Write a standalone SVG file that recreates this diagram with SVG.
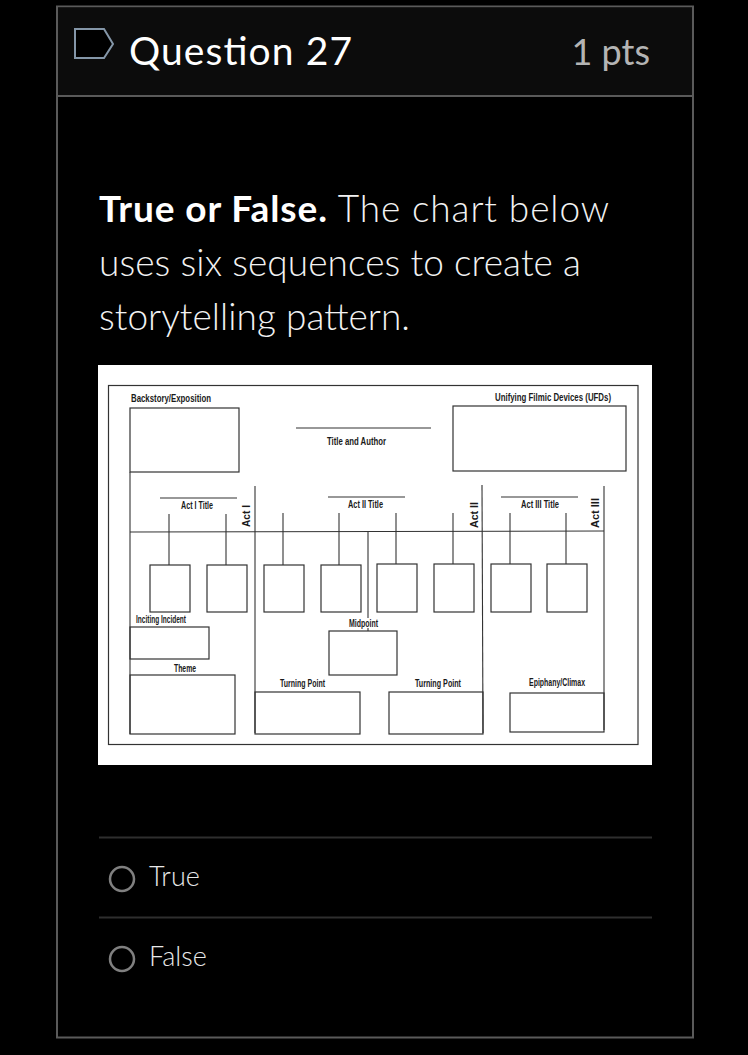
<svg xmlns="http://www.w3.org/2000/svg" width="748" height="1055" viewBox="0 0 748 1055">
<style>
.ui{font-family:Lato,"Open Sans","DejaVu Sans",sans-serif}
.q{fill:#f2f2f2;font-size:37px;font-weight:300}
.ch{font-family:"Liberation Sans",Arial,sans-serif;font-weight:bold;font-size:10px;fill:#1a1a1a}
.bx{fill:none;stroke:#333;stroke-width:1.2}
.ln{stroke:#333;stroke-width:1.1;fill:none}
.opt{fill:#e8e8e8;font-size:27px;font-weight:300}
.radio{fill:none;stroke:#808080;stroke-width:2.5}
</style>
<rect width="748" height="1055" fill="#000"/>
<g id="card">
<rect x="57" y="6.5" width="636" height="1031" fill="#000" stroke="#5a5a5a" stroke-width="2"/>
<rect x="58" y="7.5" width="634" height="88" fill="#0c0c0c"/>
<line x1="57" y1="96" x2="693" y2="96" stroke="#5a5a5a" stroke-width="2"/>
</g>
<g id="header">
<path d="M75,29 H104 L113,44 L104,58 H75 Z" fill="#000" stroke="#8496a8" stroke-width="2"/>
<text class="ui" x="129" y="65" font-size="39" fill="#ffffff" textLength="223" lengthAdjust="spacing">Question 27</text>
<text class="ui" x="650" y="65" font-size="36" fill="#b4b4b4" text-anchor="end">1 pts</text>
</g>
<g id="question" class="ui q">
<text x="99" y="222" textLength="510" lengthAdjust="spacing"><tspan font-weight="bold" fill="#ffffff">True or False.</tspan> The chart below</text>
<text x="99" y="276" textLength="482" lengthAdjust="spacing">uses six sequences to create a</text>
<text x="99" y="330" textLength="311" lengthAdjust="spacing">storytelling pattern.</text>
</g>
<g id="chart">
<rect x="98" y="365" width="554" height="400" fill="#ffffff"/>
<rect x="108.5" y="385.5" width="529.5" height="359" class="bx" stroke="#555"/>
<g id="backstory">
<text class="ch" x="131" y="402" textLength="80" lengthAdjust="spacingAndGlyphs">Backstory/Exposition</text>
<rect x="130" y="408" width="109" height="64" class="bx"/>
</g>
<g id="title-author">
<line x1="296" y1="428" x2="431" y2="428" class="ln"/>
<text class="ch" x="327" y="445" textLength="59" lengthAdjust="spacingAndGlyphs">Title and Author</text>
</g>
<g id="ufd">
<text class="ch" x="495" y="401" textLength="116" lengthAdjust="spacingAndGlyphs">Unifying Filmic Devices (UFDs)</text>
<rect x="453" y="406" width="173" height="65" class="bx"/>
</g>
<g id="act1-title">
<line x1="160" y1="498" x2="237" y2="498" class="ln"/>
<text class="ch" x="181" y="509" textLength="32" lengthAdjust="spacingAndGlyphs">Act I Title</text>
</g>
<g id="act2-title">
<line x1="328" y1="497" x2="405" y2="497" class="ln"/>
<text class="ch" x="348" y="508" textLength="35" lengthAdjust="spacingAndGlyphs">Act II Title</text>
</g>
<g id="act3-title">
<line x1="501" y1="497" x2="578" y2="497" class="ln"/>
<text class="ch" x="521" y="508" textLength="38" lengthAdjust="spacingAndGlyphs">Act III Title</text>
</g>
<g id="act1-label"><text class="ch" font-size="11" transform="translate(250,527) rotate(-90)" textLength="22" lengthAdjust="spacingAndGlyphs">Act I</text></g>
<g id="act2-label"><text class="ch" font-size="11" transform="translate(478,528) rotate(-90)" textLength="26" lengthAdjust="spacingAndGlyphs">Act II</text></g>
<g id="act3-label"><text class="ch" font-size="11" transform="translate(599,528) rotate(-90)" textLength="30" lengthAdjust="spacingAndGlyphs">Act III</text></g>
<g id="seq1"><rect x="150" y="565" width="40" height="47" class="bx"/></g>
<g id="seq2"><rect x="207" y="565" width="40" height="47" class="bx"/></g>
<g id="seq3"><rect x="264" y="565" width="40" height="47" class="bx"/></g>
<g id="seq4"><rect x="321" y="565" width="40" height="47" class="bx"/></g>
<g id="seq5"><rect x="377" y="564" width="40" height="48" class="bx"/></g>
<g id="seq6"><rect x="434" y="564" width="40" height="48" class="bx"/></g>
<g id="seq7"><rect x="491" y="564" width="40" height="48" class="bx"/></g>
<g id="seq8"><rect x="547" y="564" width="40" height="48" class="bx"/></g>
<g id="inciting">
<text class="ch" x="136" y="623" font-size="9" textLength="50" lengthAdjust="spacingAndGlyphs">Inciting Incident</text>
<rect x="130" y="627" width="79" height="32" class="bx"/>
</g>
<g id="theme">
<text class="ch" x="174" y="672" font-size="9" textLength="22" lengthAdjust="spacingAndGlyphs">Theme</text>
<rect x="130" y="675" width="105" height="59" class="bx"/>
</g>
<g id="midpoint">
<text class="ch" x="349" y="627" font-size="9" textLength="29" lengthAdjust="spacingAndGlyphs">Midpoint</text>
<rect x="329" y="631" width="68" height="44" class="bx"/>
</g>
<g id="turning1">
<text class="ch" x="280" y="687" font-size="9" textLength="45" lengthAdjust="spacingAndGlyphs">Turning Point</text>
<rect x="255" y="692" width="105" height="42" class="bx"/>
</g>
<g id="turning2">
<text class="ch" x="415" y="687" font-size="9" textLength="46" lengthAdjust="spacingAndGlyphs">Turning Point</text>
<rect x="389" y="692" width="94" height="42" class="bx"/>
</g>
<g id="climax">
<text class="ch" x="529" y="686" font-size="9" textLength="56" lengthAdjust="spacingAndGlyphs">Epiphany/Climax</text>
<rect x="510" y="693" width="94" height="39" class="bx"/>
</g>
<g id="connectors" class="ln">
<line x1="130" y1="472" x2="130" y2="734"/>
<line x1="130" y1="532" x2="604" y2="531"/>
<line x1="255" y1="486" x2="255" y2="733"/>
<line x1="482" y1="485" x2="483" y2="733"/>
<line x1="604" y1="486" x2="604" y2="730"/>
<line x1="169" y1="514" x2="169" y2="565"/>
<line x1="226" y1="514" x2="226" y2="565"/>
<line x1="283" y1="513" x2="283" y2="565"/>
<line x1="339" y1="513" x2="339" y2="565"/>
<line x1="396" y1="513" x2="396" y2="564"/>
<line x1="453" y1="513" x2="453" y2="564"/>
<line x1="510" y1="513" x2="510" y2="564"/>
<line x1="566" y1="513" x2="566" y2="564"/>
<line x1="368" y1="532" x2="368" y2="618"/>
<line x1="368" y1="628" x2="368" y2="631"/>
</g>
</g>
<g id="options">
<line x1="99" y1="837.5" x2="652" y2="837.5" stroke="#2e2e2e" stroke-width="2"/>
<line x1="99" y1="917.5" x2="652" y2="917.5" stroke="#2e2e2e" stroke-width="2"/>
<g id="opt-true">
<circle cx="122" cy="879" r="12" class="radio"/>
<text class="ui opt" x="149" y="886">True</text>
</g>
<g id="opt-false">
<circle cx="122" cy="959" r="12" class="radio"/>
<text class="ui opt" x="149" y="966">False</text>
</g>
</g>
</svg>
